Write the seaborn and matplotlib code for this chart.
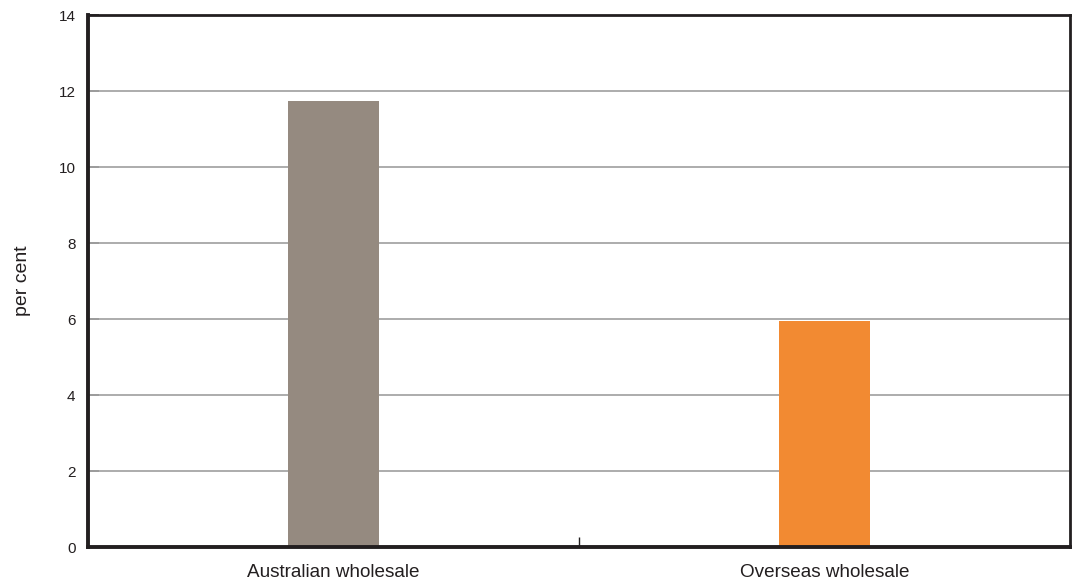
import matplotlib
matplotlib.use("Agg")
import matplotlib.pyplot as plt
import seaborn as sns
import pandas as pd

# --- data ---
categories = ["Australian wholesale", "Overseas wholesale"]
values = [11.75, 5.95]
bar_colors = ["#958a80", "#f28a32"]
y_ticks = [0, 2, 4, 6, 8, 10, 12, 14]

df = pd.DataFrame({"category": categories, "value": values})

sns.set_style("white")
plt.rcParams["font.family"] = ["Liberation Sans", "DejaVu Sans"]

fig = plt.figure(figsize=(10.72, 5.87), dpi=100)
ax = fig.add_axes([0.0821, 0.0681, 0.9159, 0.9063])

sns.barplot(data=df, x="category", y="value", hue="category",
            palette=bar_colors, width=0.185, legend=False, ax=ax,
            saturation=1, linewidth=0, zorder=3)

ax.set_xlim(-0.5, 1.5)
ax.set_ylim(0, 14)
ax.set_yticks(y_ticks)
ax.set_yticklabels([str(t) for t in y_ticks], fontsize=11)

# gridlines between the spines only
for t in y_ticks[1:-1]:
    ax.axhline(t, color="#a6a6a6", lw=1.3, zorder=1)

ax.set_xticks([0, 1])
ax.set_xticklabels(categories, fontsize=13.6, color="#231f20")
ax.set_xticks([0.5], minor=True)
ax.tick_params(axis="x", which="major", bottom=True, length=0, pad=12)
ax.tick_params(axis="x", which="minor", bottom=True, direction="in",
               length=7, width=1, color="#231f20")
ax.tick_params(axis="y", left=True, direction="in", length=8, width=1.2,
               color="#231f20", pad=9, labelcolor="#231f20")

ax.set_xlabel("")
ax.set_ylabel("per cent", fontsize=14, color="#231f20", labelpad=20)

for side, lw in [("left", 2.8), ("bottom", 2.8), ("top", 2.0), ("right", 2.0)]:
    ax.spines[side].set_visible(True)
    ax.spines[side].set_color("#231f20")
    ax.spines[side].set_linewidth(lw)
    ax.spines[side].set_zorder(5)

fig.savefig("out.png", dpi=100)
